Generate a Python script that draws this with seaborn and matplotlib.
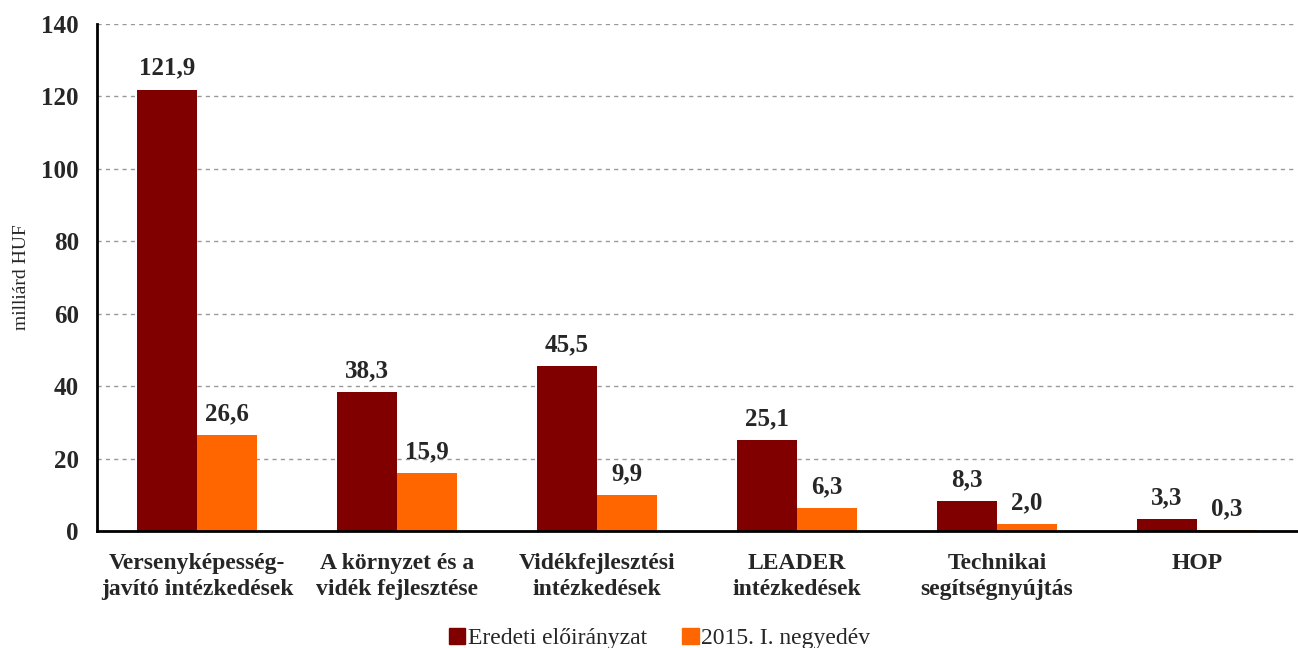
import numpy as np
import pandas as pd
import matplotlib.pyplot as plt
import seaborn as sns

categories = [
    "Versenyképesség-\njavító intézkedések",
    "A környzet és a\nvidék fejlesztése",
    "Vidékfejlesztési\nintézkedések",
    "LEADER\nintézkedések",
    "Technikai\nsegítségnyújtás",
    "HOP",
]
series_names = ["Eredeti előirányzat", "2015. I. negyedév"]
eredeti = [121.9, 38.3, 45.5, 25.1, 8.3, 3.3]
negyedev = [26.6, 15.9, 9.9, 6.3, 2.0, 0.3]
y_ticks = [0, 20, 40, 60, 80, 100, 120, 140]
colors = ["#800000", "#FF6600"]

sns.set_theme(style="white")
plt.rcParams["font.family"] = ["Liberation Serif", "DejaVu Serif"]

df = pd.DataFrame({
    "cat": categories * 2,
    "val": eredeti + negyedev,
    "series": [series_names[0]] * len(categories) + [series_names[1]] * len(categories),
})

fig = plt.figure(figsize=(12.98, 6.48), dpi=100)
ax = fig.add_axes([0.0747, 0.1806, 0.9245, 0.7824])

sns.barplot(data=df, x="cat", y="val", hue="series", palette=colors,
            width=0.6, saturation=1, linewidth=0, ax=ax, legend=False)

for cont, vals in zip(ax.containers, [eredeti, negyedev]):
    ax.bar_label(cont, labels=[f"{v:.1f}".replace(".", ",") for v in vals],
                 padding=7, fontsize=18, fontweight="bold")

ax.set_xlim(-0.5, len(categories) - 0.5)
ax.set_ylim(0, 140)
ax.set_yticks(y_ticks)
ax.set_yticklabels([str(t) for t in y_ticks], fontsize=18, fontweight="bold")
ax.set_xticks(np.arange(len(categories)))
ax.set_xticklabels(categories, fontsize=17, fontweight="bold", linespacing=1.3)
ax.set_xticks(np.arange(-0.5, len(categories), 1.0), minor=True)
ax.tick_params(axis="x", which="major", length=0, pad=16)
ax.tick_params(axis="x", which="minor", length=7, width=2, direction="out", color="black")
ax.tick_params(axis="y", length=7, width=2, direction="out", color="black", pad=6)
ax.set_xlabel("")
ax.set_ylabel("milliárd HUF", fontsize=14, labelpad=8)

for t in y_ticks[1:]:
    ax.axhline(t, color="#999999", linestyle=(0, (3, 3)), linewidth=1, zorder=0)

sns.despine(ax=ax, top=True, right=True)
for s in ["left", "bottom"]:
    ax.spines[s].set_color("black")
    ax.spines[s].set_linewidth(2)

handles = [plt.Rectangle((0, 0), 1, 1, color=c) for c in colors]
fig.legend(handles, series_names, loc="lower center", bbox_to_anchor=(0.508, -0.035),
           ncol=2, frameon=False, fontsize=17, handlelength=0.7, handleheight=0.7,
           handletextpad=0.1, columnspacing=1.5)

fig.savefig("out.png", dpi=100)
